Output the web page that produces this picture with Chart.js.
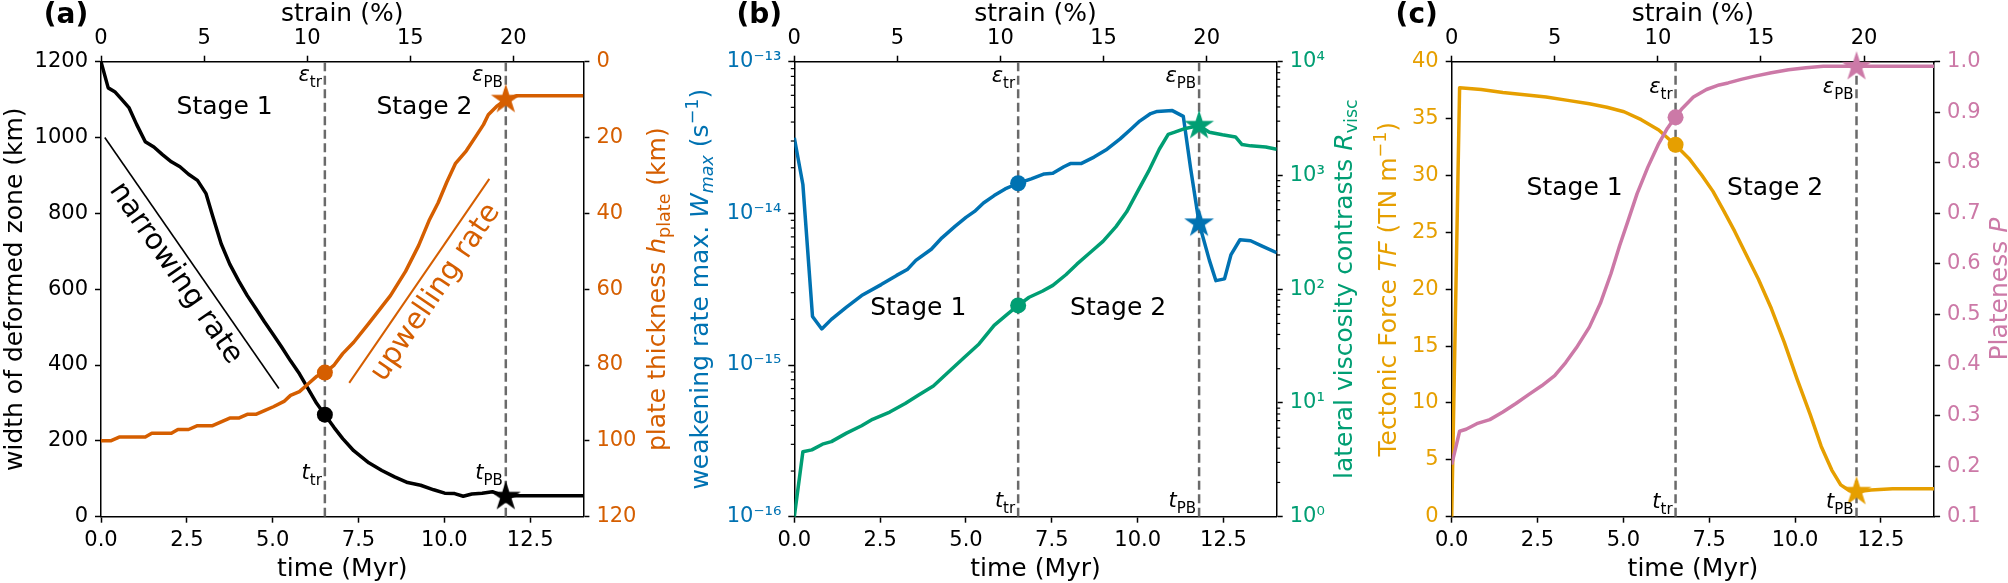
<!DOCTYPE html>
<html>
<head>
<meta charset="utf-8">
<script src="https://cdn.jsdelivr.net/npm/chart.js@4.4.1/dist/chart.umd.min.js"></script>
<style>
html,body{margin:0;padding:0;background:#ffffff;overflow:hidden}
#wrap{position:relative;width:2008px;height:583px;background:#fff}
#wrap canvas{position:absolute;left:0;top:0}
</style>
</head>
<body>
<div id="wrap">
<canvas id="chartA" width="2008" height="583"></canvas>
<canvas id="chartB" width="2008" height="583"></canvas>
<canvas id="chartC" width="2008" height="583"></canvas>
</div>
<script>
// ---------------- shared axis data ----------------
const timeMax = 14.05;
const timeTicks = [0, 2.5, 5, 7.5, 10, 12.5];
const strainPerMyr = 20 / 12.01;
const strainTicks = [0, 5, 10, 15, 20];
const tTransition = 6.52;
const tPlateBoundary = 11.79;

// ---------------- panel (a) ----------------
const widthTicks = [0, 200, 400, 600, 800, 1000, 1200];
const thickTicks = [0, 20, 40, 60, 80, 100, 120];
const timeWidth = [0, 0.21, 0.40, 0.59, 0.82, 1.04, 1.29, 1.54, 1.79, 2.05, 2.30, 2.55, 2.81, 3.06, 3.25, 3.50, 3.75, 4.01, 4.26, 4.51, 4.76, 5.02, 5.27, 5.52, 5.78, 6.03, 6.28, 6.52, 6.79, 7.04, 7.36, 7.80, 8.18, 8.55, 8.93, 9.31, 9.69, 10.01, 10.30, 10.55, 10.80, 11.10, 11.40, 11.79, 12.09, 14.05];
const deformedWidth = [1200, 1131, 1121, 1102, 1078, 1034, 989, 975, 955, 936, 923, 903, 887, 852, 794, 720, 666, 622, 583, 549, 514, 480, 446, 411, 377, 338, 299, 269, 235, 206, 174, 142, 122, 105, 90, 83, 71, 62, 61, 54, 60, 62, 66, 53, 55, 55];
const timeThick = [0, 0.28, 0.53, 1.29, 1.48, 2.05, 2.24, 2.55, 2.81, 3.25, 3.50, 3.75, 4.01, 4.26, 4.51, 4.76, 5.02, 5.33, 5.52, 5.78, 6.03, 6.28, 6.52, 6.79, 7.04, 7.36, 7.80, 8.18, 8.43, 8.87, 9.25, 9.57, 9.82, 10.07, 10.32, 10.64, 10.96, 11.14, 11.28, 11.52, 11.79, 12.09, 14.05];
const plateThickness = [100, 100, 99, 99, 98, 98, 97, 97, 96, 96, 95, 94, 94, 93, 93, 92, 91, 89.6, 88, 87, 85, 83, 82, 80, 77, 74, 69, 64.6, 61.7, 55.3, 48.5, 41.6, 37.2, 31.8, 26.9, 23.5, 19.1, 16.6, 14.0, 11.8, 10.0, 9.0, 9.0];
const narrowingGuideT = [0.11, 5.18];
const narrowingGuideW = [1000, 338];
const upwellingGuideT = [7.23, 11.31];
const upwellingGuideH = [84.7, 30.9];
const widthMarks = [269, 53];      // at tTransition, tPlateBoundary
const thickMarks = [82, 10.0];

// ---------------- panel (b) ----------------
const rateTicks = [1e-16, 1e-15, 1e-14, 1e-13];
const contrastTicks = [1, 10, 100, 1000, 10000];
const timeW = [0, 0.25, 0.53, 0.80, 1.08, 1.52, 1.96, 2.53, 2.98, 3.29, 3.54, 3.99, 4.30, 4.68, 5.00, 5.25, 5.51, 5.82, 6.14, 6.52, 6.90, 7.28, 7.53, 7.85, 8.04, 8.35, 8.73, 9.11, 9.49, 9.81, 10.06, 10.38, 10.57, 11.01, 11.33, 11.54, 11.79, 12.09, 12.28, 12.53, 12.72, 12.98, 13.29, 13.61, 14.05];
const weakeningRate = [3.15e-14, 1.55e-14, 2.09e-15, 1.73e-15, 2.0e-15, 2.41e-15, 2.87e-15, 3.39e-15, 3.9e-15, 4.26e-15, 4.9e-15, 5.8e-15, 6.9e-15, 8.2e-15, 9.4e-15, 1.03e-14, 1.17e-14, 1.31e-14, 1.45e-14, 1.58e-14, 1.69e-14, 1.82e-14, 1.84e-14, 2.03e-14, 2.13e-14, 2.13e-14, 2.35e-14, 2.65e-14, 3.1e-14, 3.6e-14, 4.06e-14, 4.55e-14, 4.7e-14, 4.76e-14, 4.36e-14, 2.0e-14, 8.6e-15, 4.9e-15, 3.6e-15, 3.7e-15, 5.35e-15, 6.7e-15, 6.6e-15, 6.1e-15, 5.5e-15];
const timeR = [0, 0.25, 0.51, 0.82, 1.08, 1.52, 1.96, 2.28, 2.78, 3.23, 3.61, 4.05, 4.49, 4.94, 5.38, 5.82, 6.20, 6.52, 6.84, 7.22, 7.53, 7.91, 8.23, 8.61, 8.99, 9.37, 9.68, 10.00, 10.32, 10.63, 10.89, 11.08, 11.39, 11.79, 12.09, 12.47, 12.85, 13.04, 13.29, 13.73, 14.05];
const viscContrast = [1, 3.73, 3.87, 4.34, 4.57, 5.43, 6.31, 7.18, 8.32, 9.9, 11.7, 14.1, 18.7, 25, 33, 48, 60, 72, 85, 96, 108, 134, 166, 209, 263, 355, 479, 724, 1090, 1700, 2300, 2400, 2590, 2740, 2400, 2280, 2180, 1870, 1820, 1780, 1700];
const rateMarks = [1.58e-14, 8.6e-15];
const contrastMarks = [72, 2740];

// ---------------- panel (c) ----------------
const forceTicks = [0, 5, 10, 15, 20, 25, 30, 35, 40];
const platenessTicks = [0.1, 0.2, 0.3, 0.4, 0.5, 0.6, 0.7, 0.8, 0.9, 1.0];
const timeTF = [0, 0.23, 0.86, 1.49, 2.12, 2.75, 3.38, 4.01, 4.52, 5.02, 5.52, 6.03, 6.51, 6.91, 7.29, 7.61, 7.92, 8.24, 8.55, 8.93, 9.31, 9.69, 10.06, 10.44, 10.76, 11.07, 11.33, 11.58, 11.79, 12.21, 12.84, 14.05];
const tectonicForce = [0, 37.7, 37.55, 37.3, 37.1, 36.9, 36.6, 36.3, 36.0, 35.6, 34.9, 34.0, 32.7, 31.5, 30.0, 28.6, 26.9, 25.1, 23.2, 20.9, 18.3, 15.3, 12.1, 9.0, 6.2, 4.1, 2.8, 2.3, 2.2, 2.35, 2.45, 2.45];
const timeP = [0, 0.23, 0.42, 0.73, 1.11, 1.49, 1.87, 2.25, 2.62, 3.00, 3.32, 3.63, 4.01, 4.33, 4.64, 4.89, 5.15, 5.40, 5.71, 6.03, 6.28, 6.51, 6.72, 7.04, 7.42, 7.79, 8.05, 8.43, 8.80, 9.31, 9.81, 10.32, 10.82, 11.79, 14.05];
const plateness = [0.203, 0.269, 0.273, 0.284, 0.292, 0.307, 0.324, 0.342, 0.359, 0.379, 0.405, 0.434, 0.475, 0.522, 0.581, 0.636, 0.688, 0.739, 0.791, 0.838, 0.868, 0.89, 0.908, 0.93, 0.945, 0.954, 0.958, 0.965, 0.971, 0.978, 0.984, 0.988, 0.991, 0.991, 0.991];
const forceMarks = [32.7, 2.2];
const platenessMarks = [0.89, 0.99];

// ---------------- styling ----------------
const COL = {black:'#000000', orange:'#D55E00', blue:'#0072B2', green:'#009E73', yellow:'#E69F00', pink:'#CC79A7', dash:'#6a6a6a'};
const FAM = '"DejaVu Sans", sans-serif';
const fN = s => `${s}px ${FAM}`;
const fI = s => `italic ${s}px ${FAM}`;
const fB = s => `bold ${s}px ${FAM}`;
const TICK_FONT = 21, LABEL_FONT = 25, SUB_FONT = 17.5;
const P_TOP = 61.7, P_BOTTOM = 516.7, P_WIDTH = 482.4;
const LW = 80, RW = 70, TH = 40, BH = 60;

const SUPMAP = {'-':'⁻','0':'⁰','1':'¹','2':'²','3':'³','4':'⁴','5':'⁵','6':'⁶','7':'⁷','8':'⁸','9':'⁹'};
function pow10Label(v) {
  const e = Math.round(Math.log10(v));
  return '10' + String(e).split('').map(c => SUPMAP[c]).join('');
}
function minorsFor(majors) {
  const out = [];
  for (let i = 0; i < majors.length - 1; i++) for (let m = 2; m <= 9; m++) out.push(majors[i] * m);
  return out;
}

function starImage(color, R) {
  const size = Math.ceil(2 * R + 4);
  const c = document.createElement('canvas');
  c.width = size; c.height = size;
  const g = c.getContext('2d');
  g.translate(size / 2, size / 2);
  g.beginPath();
  const r = R * 0.381966;
  for (let i = 0; i < 10; i++) {
    const ang = -Math.PI / 2 + i * Math.PI / 5;
    const rr = i % 2 === 0 ? R : r;
    const px = rr * Math.cos(ang), py = rr * Math.sin(ang);
    if (i === 0) g.moveTo(px, py); else g.lineTo(px, py);
  }
  g.closePath();
  g.fillStyle = color;
  g.fill();
  return c;
}

function drawRich(ctx, segs, x, y, rot, align, color, baseline) {
  ctx.save();
  ctx.translate(x, y);
  if (rot) ctx.rotate(rot);
  ctx.textBaseline = baseline || 'alphabetic';
  ctx.textAlign = 'left';
  let w = 0;
  for (const s of segs) { ctx.font = s.font; w += ctx.measureText(s.t).width; }
  let cx = align === 'center' ? -w / 2 : (align === 'right' ? -w : 0);
  for (const s of segs) {
    ctx.font = s.font;
    ctx.fillStyle = s.color || color;
    ctx.fillText(s.t, cx, s.dy || 0);
    cx += ctx.measureText(s.t).width;
  }
  ctx.restore();
}

function axis(o) {
  const horizontal = o.position === 'top' || o.position === 'bottom';
  return {
    type: o.type || 'linear',
    position: o.position,
    min: o.min, max: o.max,
    reverse: !!o.reverse,
    display: true,
    z: 1,
    afterBuildTicks: s => { s.ticks = o.ticks.map(v => ({value: v})); },
    afterFit: s => { if (horizontal) s.height = o.size; else s.width = o.size; },
    ticks: {
      callback: v => o.fmt(v),
      color: o.color || '#000',
      font: {family: FAM, size: TICK_FONT},
      padding: horizontal ? 5 : 7,
      maxRotation: 0, minRotation: 0, autoSkip: false
    },
    grid: {drawOnChartArea: false, drawTicks: true, tickLength: 6, tickWidth: 1.5, tickColor: '#000'},
    border: {display: true, color: '#000', width: 1.5},
    title: {display: false}
  };
}

function series(xs, ys, color, yAxisID, width, order) {
  return {
    type: 'line', data: xs.map((x, i) => ({x: x, y: ys[i]})),
    xAxisID: 'x', yAxisID: yAxisID, borderColor: color, borderWidth: width,
    pointRadius: 0, tension: 0, fill: false, order: order,
    borderJoinStyle: 'round', borderCapStyle: 'butt'
  };
}
function dashed(t, y0, y1, yAxisID) {
  return {
    type: 'line', data: [{x: t, y: y0}, {x: t, y: y1}], xAxisID: 'x', yAxisID: yAxisID,
    borderColor: COL.dash, borderWidth: 2.5, borderDash: [9, 4.5], pointRadius: 0, order: 30
  };
}
function marker(t, y, style, color, yAxisID, order) {
  return {
    type: 'line', data: [{x: t, y: y}], xAxisID: 'x', yAxisID: yAxisID, showLine: false,
    pointStyle: style, pointRadius: 8, pointBackgroundColor: color, pointBorderColor: color,
    pointBorderWidth: 0, order: order, clip: false
  };
}

function decor(spec) {
  return {
    id: 'decor' + spec.letter,
    afterDraw(chart) {
      const ctx = chart.ctx, a = chart.chartArea, sx = chart.scales.x;
      // minor ticks on log axes
      if (spec.minor) {
        ctx.save();
        ctx.strokeStyle = '#000'; ctx.lineWidth = 1.2;
        for (const id of Object.keys(spec.minor)) {
          const s = chart.scales[id];
          for (const v of spec.minor[id]) {
            const py = s.getPixelForValue(v);
            ctx.beginPath();
            if (s.position === 'left') { ctx.moveTo(a.left, py); ctx.lineTo(a.left - 3.5, py); }
            else { ctx.moveTo(a.right, py); ctx.lineTo(a.right + 3.5, py); }
            ctx.stroke();
          }
        }
        ctx.restore();
      }
      const cxm = (a.left + a.right) / 2, cym = (a.top + a.bottom) / 2;
      drawRich(ctx, [{t: '(' + spec.letter + ')', font: fB(28)}], a.left - 35, 23, 0, 'center', '#000');
      drawRich(ctx, [{t: 'strain (%)', font: fN(LABEL_FONT)}], cxm, 20.5, 0, 'center', '#000');
      drawRich(ctx, [{t: 'time (Myr)', font: fN(LABEL_FONT)}], cxm, 576, 0, 'center', '#000');
      drawRich(ctx, spec.leftTitle, a.left + spec.leftDx, cym, -Math.PI / 2, 'center', spec.leftColor);
      drawRich(ctx, spec.rightTitle, a.right + spec.rightDx, cym, -Math.PI / 2, 'center', spec.rightColor);
      // stage labels
      const ys = chart.scales[spec.stageAxis].getPixelForValue(spec.stageY);
      drawRich(ctx, [{t: 'Stage 1', font: fN(LABEL_FONT)}], sx.getPixelForValue(spec.stage1T), ys, 0, 'center', '#000');
      drawRich(ctx, [{t: 'Stage 2', font: fN(LABEL_FONT)}], sx.getPixelForValue(spec.stage2T), ys, 0, 'center', '#000');
      // epsilon / t labels
      const xTr = sx.getPixelForValue(tTransition) - 3, xPB = sx.getPixelForValue(tPlateBoundary) - 3;
      const yE = a.top + spec.epsDy, yT = a.bottom - spec.tDy;
      drawRich(ctx, [{t: 'ε', font: fI(21)}, {t: 'tr', font: fN(15), dy: 6}], xTr, yE, 0, 'right', '#000');
      drawRich(ctx, [{t: 'ε', font: fI(21)}, {t: 'PB', font: fN(15), dy: 6}], xPB, yE, 0, 'right', '#000');
      drawRich(ctx, [{t: 't', font: fI(21)}, {t: 'tr', font: fN(15), dy: 6}], xTr, yT, 0, 'right', '#000');
      drawRich(ctx, [{t: 't', font: fI(21)}, {t: 'PB', font: fN(15), dy: 6}], xPB, yT, 0, 'right', '#000');
      if (spec.extra) spec.extra(chart, ctx);
    }
  };
}

function makePanel(canvasId, left, spec) {
  const right = left + P_WIDTH;
  return new Chart(document.getElementById(canvasId), {
    type: 'line',
    data: {datasets: spec.datasets},
    options: {
      responsive: false, animation: false, devicePixelRatio: 1, events: [],
      layout: {padding: {left: left - LW, right: 2008 - right - RW, top: P_TOP - TH, bottom: 583 - P_BOTTOM - BH}},
      plugins: {legend: {display: false}, tooltip: {enabled: false}, title: {display: false}},
      scales: {
        x: axis({position: 'bottom', min: 0, max: timeMax, ticks: timeTicks, fmt: v => v.toFixed(1), size: BH}),
        xs: axis({position: 'top', min: 0, max: timeMax * strainPerMyr, ticks: strainTicks, fmt: v => String(v), size: TH}),
        yl: axis(spec.yl),
        yr: axis(spec.yr)
      }
    },
    plugins: [decor(spec)]
  });
}

// ---------------- panel (a) ----------------
makePanel('chartA', 101, {
  letter: 'a',
  yl: {position: 'left', min: 0, max: 1200, ticks: widthTicks, fmt: v => String(v), size: LW, color: COL.black},
  yr: {position: 'right', min: 0, max: 120, reverse: true, ticks: thickTicks, fmt: v => String(v), size: RW, color: COL.orange},
  datasets: [
    dashed(tTransition, 0, 1200, 'yl'),
    dashed(tPlateBoundary, 0, 1200, 'yl'),
    series(narrowingGuideT, narrowingGuideW, COL.black, 'yl', 1.6, 25),
    series(upwellingGuideT, upwellingGuideH, COL.orange, 'yr', 2, 25),
    series(timeWidth, deformedWidth, COL.black, 'yl', 3.5, 12),
    series(timeThick, plateThickness, COL.orange, 'yr', 3.5, 10),
    marker(tTransition, widthMarks[0], 'circle', COL.black, 'yl', 6),
    marker(tPlateBoundary, widthMarks[1], starImage(COL.black, 15.7), COL.black, 'yl', 6),
    marker(tTransition, thickMarks[0], 'circle', COL.orange, 'yr', 5),
    marker(tPlateBoundary, thickMarks[1], starImage(COL.orange, 15.7), COL.orange, 'yr', 5)
  ],
  leftTitle: [{t: 'width of deformed zone (km)', font: fN(LABEL_FONT)}],
  leftColor: COL.black, leftDx: -79,
  rightTitle: [{t: 'plate thickness ', font: fN(LABEL_FONT)}, {t: 'h', font: fI(LABEL_FONT)}, {t: 'plate', font: fN(SUB_FONT), dy: 5}, {t: ' (km)', font: fN(LABEL_FONT)}],
  rightColor: COL.orange, rightDx: 82,
  stageAxis: 'yl', stageY: 1062, stage1T: 3.6, stage2T: 9.42,
  epsDy: 19.6, tDy: 38.2,
  extra: (chart, ctx) => {
    const sx = chart.scales.x, yl = chart.scales.yl, yr = chart.scales.yr;
    drawRich(ctx, [{t: 'narrowing rate', font: fN(29)}], sx.getPixelForValue(2.17), yl.getPixelForValue(641.7), 55.5 * Math.PI / 180, 'center', COL.black, 'middle');
    drawRich(ctx, [{t: 'upwelling rate', font: fN(29)}], sx.getPixelForValue(9.75), yr.getPixelForValue(60.9), -55.8 * Math.PI / 180, 'center', COL.orange, 'middle');
  }
});

// ---------------- panel (b) ----------------
makePanel('chartB', 794.3, {
  letter: 'b',
  yl: {type: 'logarithmic', position: 'left', min: 1e-16, max: 1e-13, ticks: rateTicks, fmt: pow10Label, size: LW, color: COL.blue},
  yr: {type: 'logarithmic', position: 'right', min: 1, max: 1e4, ticks: contrastTicks, fmt: pow10Label, size: RW, color: COL.green},
  minor: {yl: minorsFor(rateTicks), yr: minorsFor(contrastTicks)},
  datasets: [
    dashed(tTransition, 1e-16, 1e-13, 'yl'),
    dashed(tPlateBoundary, 1e-16, 1e-13, 'yl'),
    series(timeW, weakeningRate, COL.blue, 'yl', 3.5, 12),
    series(timeR, viscContrast, COL.green, 'yr', 3.5, 10),
    marker(tTransition, rateMarks[0], 'circle', COL.blue, 'yl', 6),
    marker(tPlateBoundary, rateMarks[1], starImage(COL.blue, 15.7), COL.blue, 'yl', 6),
    marker(tTransition, contrastMarks[0], 'circle', COL.green, 'yr', 5),
    marker(tPlateBoundary, contrastMarks[1], starImage(COL.green, 15.7), COL.green, 'yr', 5)
  ],
  leftTitle: [{t: 'weakening rate max. ', font: fN(LABEL_FONT)}, {t: 'W', font: fI(LABEL_FONT)}, {t: 'max', font: fI(SUB_FONT), dy: 5}, {t: ' (s', font: fN(LABEL_FONT)}, {t: '−1', font: fN(SUB_FONT), dy: -10}, {t: ')', font: fN(LABEL_FONT)}],
  leftColor: COL.blue, leftDx: -86.3,
  rightTitle: [{t: 'lateral viscosity contrasts ', font: fN(LABEL_FONT)}, {t: 'R', font: fI(LABEL_FONT)}, {t: 'visc', font: fN(SUB_FONT), dy: 5}],
  rightColor: COL.green, rightDx: 75.3,
  stageAxis: 'yl', stageY: 2.15e-15, stage1T: 3.61, stage2T: 9.43,
  epsDy: 19.8, tDy: 10
});

// ---------------- panel (c) ----------------
makePanel('chartC', 1451.7, {
  letter: 'c',
  yl: {position: 'left', min: 0, max: 40, ticks: forceTicks, fmt: v => String(v), size: LW, color: COL.yellow},
  yr: {position: 'right', min: 0.1, max: 1.0, ticks: platenessTicks, fmt: v => v.toFixed(1), size: RW, color: COL.pink},
  datasets: [
    dashed(tTransition, 0, 40, 'yl'),
    dashed(tPlateBoundary, 0, 40, 'yl'),
    series(timeTF, tectonicForce, COL.yellow, 'yl', 3.5, 12),
    series(timeP, plateness, COL.pink, 'yr', 3.5, 10),
    marker(tTransition, forceMarks[0], 'circle', COL.yellow, 'yl', 6),
    marker(tPlateBoundary, forceMarks[1], starImage(COL.yellow, 15.7), COL.yellow, 'yl', 6),
    marker(tTransition, platenessMarks[0], 'circle', COL.pink, 'yr', 5),
    marker(tPlateBoundary, platenessMarks[1], starImage(COL.pink, 15.7), COL.pink, 'yr', 5)
  ],
  leftTitle: [{t: 'Tectonic Force ', font: fN(LABEL_FONT)}, {t: 'TF', font: fI(LABEL_FONT)}, {t: ' (TN m', font: fN(LABEL_FONT)}, {t: '−1', font: fN(SUB_FONT), dy: -10}, {t: ')', font: fN(LABEL_FONT)}],
  leftColor: COL.yellow, leftDx: -56,
  rightTitle: [{t: 'Plateness ', font: fN(LABEL_FONT)}, {t: 'P', font: fI(LABEL_FONT)}],
  rightColor: COL.pink, rightDx: 73,
  stageAxis: 'yl', stageY: 28.3, stage1T: 3.58, stage2T: 9.42,
  epsDy: 30.8, tDy: 9
});
</script>
</body>
</html>
